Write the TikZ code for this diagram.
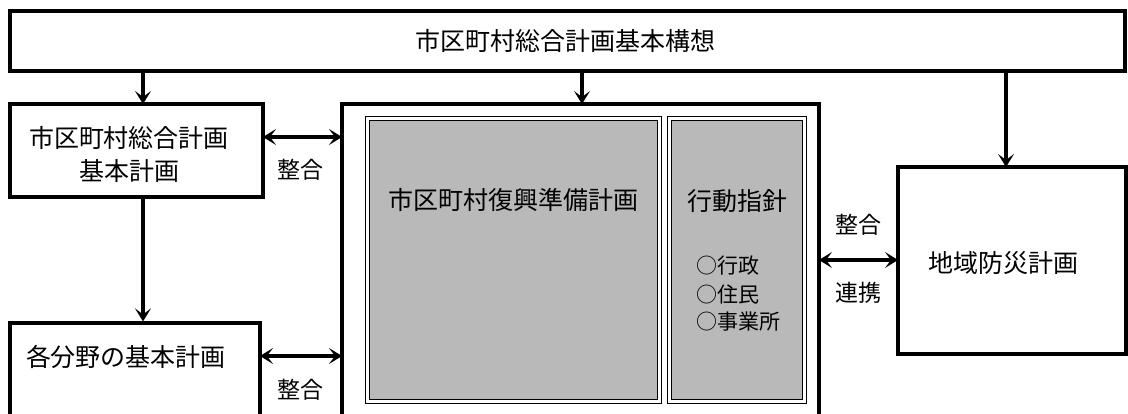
\documentclass[tikz,border=0pt]{standalone}
\usepackage{fontspec}
\newfontfamily\jp{Noto Sans CJK JP}
\usetikzlibrary{arrows.meta}
\tikzset{
  box/.style={draw=black, line width=3.2pt, fill=white, inner sep=0pt},
  shade/.style={draw=black, line width=1.1pt, double=white, double distance=2.4pt, fill=gray!55, inner sep=0pt},
  txt/.style={font=\jp\fontsize{25}{30}\selectfont, inner sep=0pt},
  lbl/.style={font=\jp\fontsize{23}{28}\selectfont, inner sep=0pt},
  item/.style={font=\jp\fontsize{21}{26}\selectfont, inner sep=0pt, anchor=west},
  tip/.style={},
  conn/.style={line width=3.2pt, -{Stealth[length=13pt,width=16pt,inset=6pt]}},
  both/.style={line width=3.2pt, {Stealth[length=13pt,width=16pt,inset=6pt]}-{Stealth[length=13pt,width=16pt,inset=6pt]}}
}
\begin{document}
\begin{tikzpicture}[x=1pt,y=-1pt]
\useasboundingbox (0,0) rectangle (1128,414);
\begin{scope}
\clip (0,0) rectangle (1128,414);
% top box
\node[box, minimum width=1115pt, minimum height=60pt] (top) at (567.5,41) {};
\node[txt] (toptxt) at (565,41) {市区町村総合計画基本構想};
% left boxes
\node[box, minimum width=253pt, minimum height=93pt] (b1) at (136.5,150.5) {};
\node[txt] (b1a) at (129,138) {市区町村総合計画};
\node[txt] (b1b) at (129,171) {基本計画};
\node[box, minimum width=250pt, minimum height=110pt] (b2) at (135,378) {};
\node[txt] (b2t) at (126,357) {各分野の基本計画};
% big box
\node[box, minimum width=477pt, minimum height=330pt] (big) at (580.5,269) {};
\node[shade, minimum width=292pt, minimum height=283pt] (s1) at (513.5,260) {};
\node[shade, minimum width=135pt, minimum height=283pt] (s2) at (737,260) {};
\node[txt] (s1t) at (513,200) {市区町村復興準備計画};
\node[txt] (s2t) at (737,201) {行動指針};
\node[item] (i1) at (696,266) {○行政};
\node[item] (i2) at (696,294) {○住民};
\node[item] (i3) at (696,322) {○事業所};
% right box
\node[box, minimum width=228pt, minimum height=187pt] (r) at (1012,260.5) {};
\node[txt] (rt) at (1003,263) {地域防災計画};
% connectors
\coordinate (t1) at (143,71);
\coordinate (t1e) at (143,104);
\coordinate (t2) at (582,71);
\coordinate (t2e) at (582,104);
\coordinate (t3) at (1006,71);
\coordinate (t3e) at (1006,167);
\draw[conn] (t1) -- (t1e);
\draw[conn] (t2) -- (t2e);
\draw[conn] (t3) -- (t3e);
\draw[conn] (b1.south -| t1) -- (b2.north -| t1);
\coordinate (a1) at (263,137);
\coordinate (a2) at (342,137);
\coordinate (a3) at (260,356);
\coordinate (a4) at (342,356);
\coordinate (a5) at (819,260);
\coordinate (a6) at (898,260);
\draw[both] (a1) -- (a2);
\draw[both] (a3) -- (a4);
\draw[both] (a5) -- (a6);
\node[lbl] (l1) at (300,170) {整合};
\node[lbl] (l2) at (300,390) {整合};
\node[lbl] (l3) at (858,225) {整合};
\node[lbl] (l4) at (858,293) {連携};
\end{scope}
\end{tikzpicture}
\end{document}
